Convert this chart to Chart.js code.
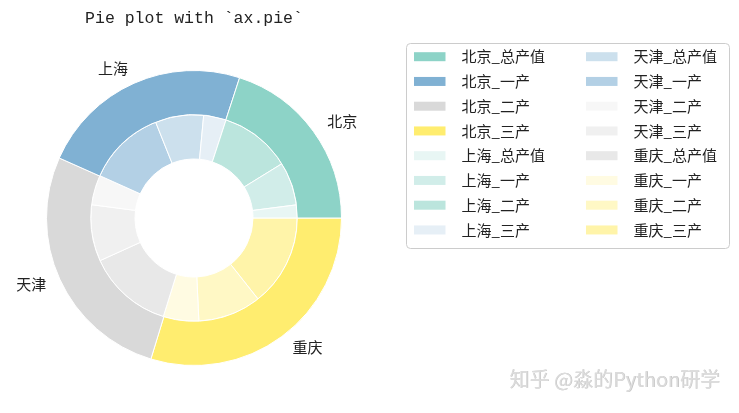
<!DOCTYPE html>
<html>
<head>
<meta charset="utf-8">
<script src="https://cdn.jsdelivr.net/npm/chart.js@4.4.1/dist/chart.umd.min.js"></script>
<style>
    html, body { margin: 0; padding: 0; background: #fff; }
    #wrap { width: 739px; height: 413px; }
</style>
</head>
<body>
<div id="wrap"><canvas id="nestedPie" width="739" height="413"></canvas></div>
<script>
// outer ring: one slice per city
const cities = ["北京", "上海", "天津", "重庆"];
const cityTotals = [72, 84, 97, 107];
// inner ring: three slices per city, same order as cities
const innerValues = [7.3, 24.4, 40.2, 12.7, 27.2, 44.0, 16.8, 31.8, 48.3, 20.0, 35.6, 51.7];
// legend text, in the order the wedges were labelled
const legendLabels = [
    "北京_总产值", "北京_一产", "北京_二产", "北京_三产",
    "上海_总产值", "上海_一产", "上海_二产", "上海_三产",
    "天津_总产值", "天津_一产", "天津_二产", "天津_三产",
    "重庆_总产值", "重庆_一产", "重庆_二产", "重庆_三产"
];
const titleText = "Pie plot with `ax.pie`";
const watermark = "知乎 @淼的Python研学";

const baseColors = [[141, 211, 199], [128, 177, 211], [217, 217, 217], [255, 237, 111]];
const innerAlphas = [0.2, 0.4, 0.6];

const outerColors = baseColors.map(c => "rgb(" + c.join(",") + ")");
const innerColors = [];
baseColors.forEach(c => {
    innerAlphas.forEach(a => {
        innerColors.push("rgba(" + c.join(",") + "," + a + ")");
    });
});
const allColors = outerColors.concat(innerColors);

// matplotlib goes counter-clockwise from 3 o'clock, Chart.js clockwise,
// so feed the library reversed copies and start at 90deg
const rev = arr => arr.slice().reverse();

const CJK = '"Noto Sans CJK SC", "Noto Sans", sans-serif';

const decorations = {
    id: "decorations",
    afterDraw(chart) {
        const c = chart.ctx;
        const meta = chart.getDatasetMeta(0);
        c.save();

        // title above the pie
        const cx = meta.data[0].x;
        c.fillStyle = "#222";
        c.font = '16.5px "Liberation Mono", monospace';
        c.textAlign = "center";
        c.textBaseline = "middle";
        c.fillText(titleText, cx, 19);

        // city names just outside the outer ring
        c.font = "15px " + CJK;
        meta.data.forEach((arc, i) => {
            const mid = (arc.startAngle + arc.endAngle) / 2;
            const r = arc.outerRadius * 1.1;
            const x = arc.x + r * Math.cos(mid);
            const y = arc.y + r * Math.sin(mid);
            c.textAlign = Math.cos(mid) >= 0 ? "left" : "right";
            c.fillText(chart.data.labels[i], x + (Math.cos(mid) >= 0 ? 2 : 0), y - 1);
        });

        // legend box, two columns of eight
        c.beginPath();
        c.roundRect(406.5, 43.5, 323, 205, 4);
        c.fillStyle = "rgba(255,255,255,0.8)";
        c.fill();
        c.strokeStyle = "#cccccc";
        c.lineWidth = 1;
        c.stroke();
        c.textAlign = "left";
        legendLabels.forEach((label, i) => {
            const col = Math.floor(i / 8);
            const row = i % 8;
            const px = col === 0 ? 414 : 586;
            const py = 56.7 + row * 24.75;
            c.fillStyle = allColors[i];
            c.fillRect(px, py - 4.5, 31.5, 9);
            c.fillStyle = "#222";
            c.fillText(label, px + 47.5, py);
        });

        // watermark
        c.font = "20px " + CJK;
        c.textAlign = "right";
        c.shadowColor = "rgba(150,150,150,0.6)";
        c.shadowBlur = 0;
        c.shadowOffsetX = 0.6;
        c.shadowOffsetY = 0.6;
        c.fillStyle = "#dcdcdc";
        c.fillText(watermark, 720, 379);
        c.restore();
    }
};

const chart = new Chart(document.getElementById("nestedPie"), {
    type: "doughnut",
    data: {
        labels: rev(cities),
        datasets: [
            {
                data: rev(cityTotals),
                backgroundColor: rev(outerColors),
                borderColor: "#ffffff",
                borderWidth: 1
            },
            {
                data: rev(innerValues),
                backgroundColor: rev(innerColors),
                borderColor: "#ffffff",
                borderWidth: 1
            }
        ]
    },
    options: {
        responsive: false,
        animation: false,
        cutout: "40%",
        rotation: 90,
        layout: { padding: { left: 46, top: 70, right: 397, bottom: 47 } },
        plugins: {
            legend: { display: false },
            title: { display: false },
            tooltip: { enabled: false }
        }
    },
    plugins: [decorations]
});
</script>
</body>
</html>
